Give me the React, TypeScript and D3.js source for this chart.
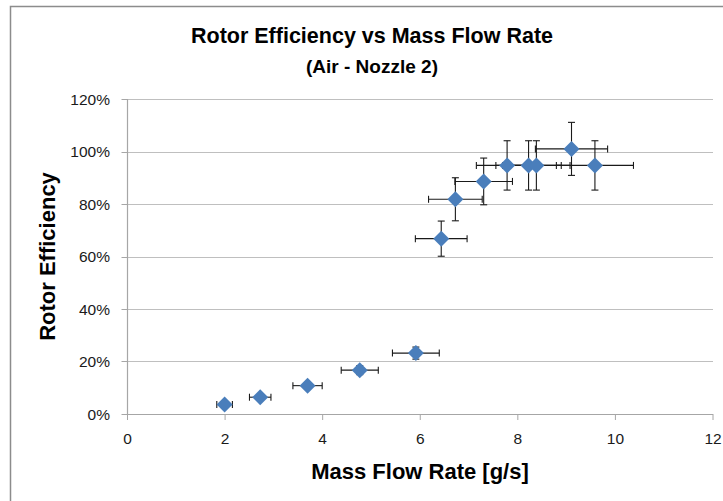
import React from 'react';
import * as d3 from 'd3';

// values
const massFlow = [1.99, 2.72, 3.69, 4.76, 5.91, 6.43, 6.72, 7.30, 7.78, 8.22, 8.38, 9.10, 9.58];
const massFlowErr = [0.16, 0.22, 0.30, 0.38, 0.48, 0.53, 0.55, 0.59, 0.63, 0.67, 0.69, 0.74, 0.79];
const efficiency = [0.036, 0.064, 0.108, 0.167, 0.232, 0.668, 0.818, 0.886, 0.947, 0.947, 0.947, 1.01, 0.947];
const efficiencyErr = [0.004, 0.006, 0.011, 0.017, 0.023, 0.067, 0.082, 0.089, 0.094, 0.094, 0.094, 0.101, 0.094];
const xTicks = [0, 2, 4, 6, 8, 10, 12];
const yTicks = [0, 0.2, 0.4, 0.6, 0.8, 1.0, 1.2];

const title = 'Rotor Efficiency vs Mass Flow Rate';
const subtitle = '(Air - Nozzle 2)';
const xTitle = 'Mass Flow Rate [g/s]';
const yTitle = 'Rotor Efficiency';

const W = 723;
const H = 501;
const font = '"Liberation Sans", Arial, sans-serif';

const App = () => {
  const x = d3.scaleLinear().domain([0, 12]).range([127.5, 713]);
  const y = d3.scaleLinear().domain([0, 1.2]).range([414, 99]);
  const pct = d3.format('.0%');

  const points = massFlow.map((m, i) => ({
    x: m, xe: massFlowErr[i], y: efficiency[i], ye: efficiencyErr[i],
  }));
  const cap = 3.5;
  const r = 8;
  const diamond = (cx, cy) => `M${cx},${cy - r}L${cx + r},${cy}L${cx},${cy + r}L${cx - r},${cy}Z`;

  return (
    <svg width={W} height={H} style={{ position: 'fixed', left: 0, top: 0, background: '#fff' }}
      fontFamily={font}>
      <rect x={0} y={0} width={W} height={H} fill="#fff" />
      <rect x={10.5} y={6.5} width={W + 20} height={H + 20} fill="none" stroke="#8c8c8c" strokeWidth={1.5} />

      {/* gridlines */}
      {yTicks.slice(1).map(t => (
        <line key={t} x1={x(0)} x2={x(12)} y1={Math.round(y(t)) + 0.5} y2={Math.round(y(t)) + 0.5}
          stroke="#bfbfbf" strokeWidth={1.2} />
      ))}

      {/* axes */}
      <line x1={x(0)} x2={x(0)} y1={y(1.2)} y2={y(0)} stroke="#a6a6a6" strokeWidth={1.2} />
      <line x1={x(0)} x2={x(12)} y1={Math.round(y(0)) + 0.5} y2={Math.round(y(0)) + 0.5} stroke="#a6a6a6" strokeWidth={1.2} />
      {yTicks.map(t => (
        <g key={t}>
          <line x1={x(0) - 6} x2={x(0)} y1={Math.round(y(t)) + 0.5} y2={Math.round(y(t)) + 0.5} stroke="#a6a6a6" />
          <text x={110} y={y(t)} dy="0.36em" textAnchor="end" fontSize={15.5} fill="#1a1a1a">{pct(t)}</text>
        </g>
      ))}
      {xTicks.map(t => (
        <g key={t}>
          <line x1={x(t)} x2={x(t)} y1={y(0)} y2={y(0) + 6} stroke="#a6a6a6" />
          <text x={x(t)} y={444} textAnchor="middle" fontSize={15.5} fill="#1a1a1a">{t}</text>
        </g>
      ))}

      {/* error bars */}
      <g stroke="#1a1a1a" strokeWidth={1.1}>
        {points.map((p, i) => (
          <g key={i}>
            <line x1={x(p.x - p.xe)} x2={x(p.x + p.xe)} y1={y(p.y)} y2={y(p.y)} />
            <line x1={x(p.x - p.xe)} x2={x(p.x - p.xe)} y1={y(p.y) - cap} y2={y(p.y) + cap} />
            <line x1={x(p.x + p.xe)} x2={x(p.x + p.xe)} y1={y(p.y) - cap} y2={y(p.y) + cap} />
            <line x1={x(p.x)} x2={x(p.x)} y1={y(p.y - p.ye)} y2={y(p.y + p.ye)} />
            <line x1={x(p.x) - cap} x2={x(p.x) + cap} y1={y(p.y - p.ye)} y2={y(p.y - p.ye)} />
            <line x1={x(p.x) - cap} x2={x(p.x) + cap} y1={y(p.y + p.ye)} y2={y(p.y + p.ye)} />
          </g>
        ))}
      </g>

      {/* markers */}
      {points.map((p, i) => (
        <path key={i} d={diamond(x(p.x), y(p.y))} fill="#4a7ebb" />
      ))}

      {/* titles */}
      <text x={372} y={43} textAnchor="middle" fontSize={21.5} fontWeight="bold" fill="#000">{title}</text>
      <text x={372} y={73} textAnchor="middle" fontSize={19} fontWeight="bold" fill="#000">{subtitle}</text>
      <text x={420} y={479} textAnchor="middle" fontSize={22} fontWeight="bold" fill="#000">{xTitle}</text>
      <text transform={`translate(55,${(y(0) + y(1.2)) / 2}) rotate(-90)`} textAnchor="middle"
        fontSize={22} fontWeight="bold" fill="#000">{yTitle}</text>
    </svg>
  );
};

export default App;
